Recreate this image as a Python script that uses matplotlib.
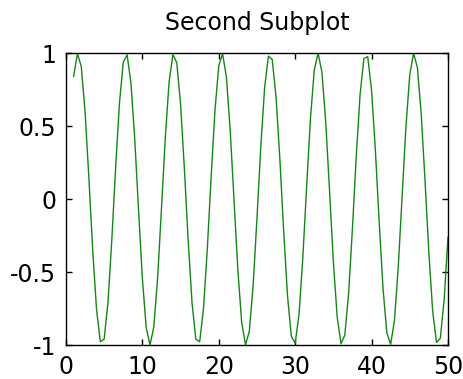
"""
Second Subplot - green oscillating line, MATLAB-like look
"""

import matplotlib
matplotlib.use("Agg")
import matplotlib.pyplot as plt

# values, every half unit from x=1 to x=50
x_values = [1 + 0.5 * i for i in range(99)]
y_values = [
    0.841, 0.997, 0.909, 0.598, 0.141, -0.351, -0.757, -0.978, -0.959, -0.706,
    -0.279, 0.215, 0.657, 0.938, 0.989, 0.798, 0.412, -0.075, -0.544, -0.880,
    -1.000, -0.875, -0.537, -0.066, 0.420, 0.804, 0.991, 0.935, 0.650, 0.207,
    -0.288, -0.712, -0.961, -0.978, -0.751, -0.342, 0.150, 0.606, 0.913, 0.996,
    0.837, 0.468, -0.009, -0.487, -0.846, -0.999, -0.906, -0.591, -0.132, 0.358,
    0.763, 0.980, 0.956, 0.699, 0.271, -0.224, -0.664, -0.941, -0.988, -0.793,
    -0.404, 0.083, 0.551, 0.884, 1.000, 0.871, 0.529, 0.057, -0.428, -0.809,
    -0.992, -0.932, -0.644, -0.199, 0.296, 0.718, 0.964, 0.976, 0.745, 0.334,
    -0.158, -0.613, -0.917, -0.995, -0.832, -0.460, 0.018, 0.495, 0.851, 0.999,
    0.902, 0.583, 0.124, -0.366, -0.768, -0.982, -0.954, -0.692, -0.262,
]
x_ticks = [0, 10, 20, 30, 40, 50]
y_ticks = [-1, -0.5, 0, 0.5, 1]
y_tick_labels = ['-1', '-0.5', '0', '0.5', '1']

fig = plt.figure(figsize=(4.63, 3.79), dpi=100)
ax = fig.add_axes([0.1425, 0.0897, 0.825, 0.770])

ax.plot(x_values, y_values, color='#108a10', linewidth=1.0)

ax.set_xlim(0, 50)
ax.set_ylim(-1, 1)
ax.set_xticks(x_ticks)
ax.set_yticks(y_ticks)
ax.set_yticklabels(y_tick_labels)

ax.tick_params(direction='in', length=4, width=1, labelsize=17, pad=7,
               top=True, right=True)
for spine in ax.spines.values():
    spine.set_linewidth(1)
    spine.set_color('black')

ax.set_title('Second Subplot', fontsize=17, pad=17)

plt.savefig('out.png', dpi=100)
plt.close()
